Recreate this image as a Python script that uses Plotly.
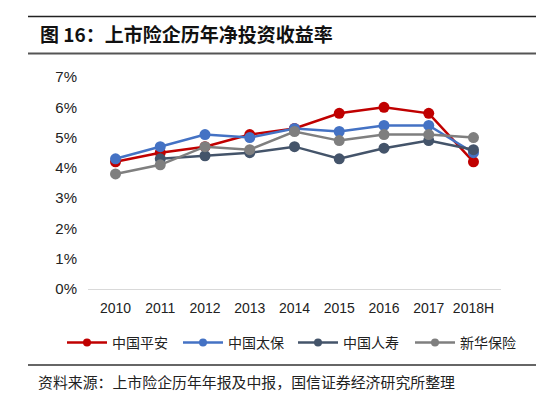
import plotly.graph_objects as go

years = ["2010", "2011", "2012", "2013", "2014", "2015", "2016", "2017", "2018H"]
pingan = [4.2, 4.5, 4.7, 5.1, 5.3, 5.8, 6.0, 5.8, 4.2]
cpic = [4.3, 4.7, 5.1, 5.0, 5.3, 5.2, 5.4, 5.4, 4.5]
chinalife = [None, 4.3, 4.4, 4.5, 4.7, 4.3, 4.65, 4.9, 4.6]
xinhua = [3.8, 4.1, 4.7, 4.6, 5.2, 4.9, 5.1, 5.1, 5.0]

series = [
    ("中国平安", pingan, "#C00000"),
    ("中国太保", cpic, "#4472C4"),
    ("中国人寿", chinalife, "#44546A"),
    ("新华保险", xinhua, "#7F7F7F"),
]
# where each legend entry's text begins in the original (window pixels)
legend_text_x = [112, 228, 343, 460]

# the page body has an 8px margin, so lay out in window pixels minus that
OFF = 8
W, H = 550 - OFF, 402 - OFF
L, R, T, B = 88 - OFF, 501 - OFF, 77 - OFF, 289 - OFF  # plot area


def px(x):
    return (x - OFF - L) / (R - L)


def py(y):
    return (B - (y - OFF)) / (B - T)


sans = "Liberation Sans, Arial, sans-serif"
cjk = "Noto Sans CJK SC"

fig = go.Figure()
for name, vals, color in series:
    fig.add_trace(
        go.Scatter(
            x=years,
            y=[v / 100 if v is not None else None for v in vals],
            mode="lines+markers",
            name=name,
            showlegend=False,
            line=dict(color=color, width=2.5),
            marker=dict(color=color, size=11),
        )
    )

# one small legend per series so each key sits where the original has it
legends = {}
for i, (name, vals, color) in enumerate(series):
    key = "legend" if i == 0 else "legend%d" % (i + 1)
    fig.add_trace(
        go.Scatter(
            x=[None], y=[None],
            mode="lines+markers",
            name=name,
            legend=key,
            line=dict(color=color, width=2.5),
            marker=dict(color=color, size=8),
        )
    )
    legends[key] = dict(
        orientation="h",
        xref="container",
        yref="container",
        x=(legend_text_x[i] - 50 - OFF) / W,
        xanchor="left",
        y=1 - (343 - OFF) / H,
        yanchor="middle",
        font=dict(family=cjk, size=14, color="#222222"),
        itemwidth=40,
        bgcolor="rgba(0,0,0,0)",
    )

fig.update_layout(
    width=W,
    height=H,
    margin=dict(l=L, r=W - R, t=T, b=H - B, autoexpand=False),
    plot_bgcolor="white",
    paper_bgcolor="white",
    showlegend=True,
    title=dict(
        text="<b>图 16：上市险企历年净投资收益率</b>",
        font=dict(family=cjk, size=19, color="#111111"),
        x=(40 - OFF) / W,
        xanchor="left",
        y=1 - (35 - OFF) / H,
        yanchor="middle",
        xref="container",
        yref="container",
        automargin=False,
    ),
    xaxis=dict(
        type="category",
        showgrid=False,
        zeroline=False,
        showline=True,
        linecolor="#D9D9D9",
        linewidth=1,
        ticks="",
        ticklabelstandoff=6,
        tickfont=dict(family=sans, size=14, color="#222222"),
    ),
    yaxis=dict(
        range=[0, 0.07],
        dtick=0.01,
        tickformat=".0%",
        showgrid=False,
        zeroline=False,
        showline=False,
        ticks="",
        ticklabelstandoff=10,
        tickfont=dict(family=sans, size=15, color="#222222"),
    ),
    shapes=[
        dict(type="line", xref="paper", yref="paper",
             x0=px(28), x1=px(536), y0=py(16.5), y1=py(16.5),
             line=dict(color="#222222", width=1.5)),
        dict(type="line", xref="paper", yref="paper",
             x0=px(28), x1=px(536), y0=py(53.5), y1=py(53.5),
             line=dict(color="#555555", width=2)),
        dict(type="line", xref="paper", yref="paper",
             x0=px(28), x1=px(536), y0=py(365), y1=py(365),
             line=dict(color="#666666", width=2)),
    ],
    annotations=[
        dict(
            text="资料来源：上市险企历年年报及中报，国信证券经济研究所整理",
            xref="paper", yref="paper",
            x=px(36), y=py(381),
            xanchor="left", yanchor="middle",
            showarrow=False,
            font=dict(family=cjk, size=14.9, color="#222222"),
        )
    ],
    **legends,
)

fig.write_html("out.html")
